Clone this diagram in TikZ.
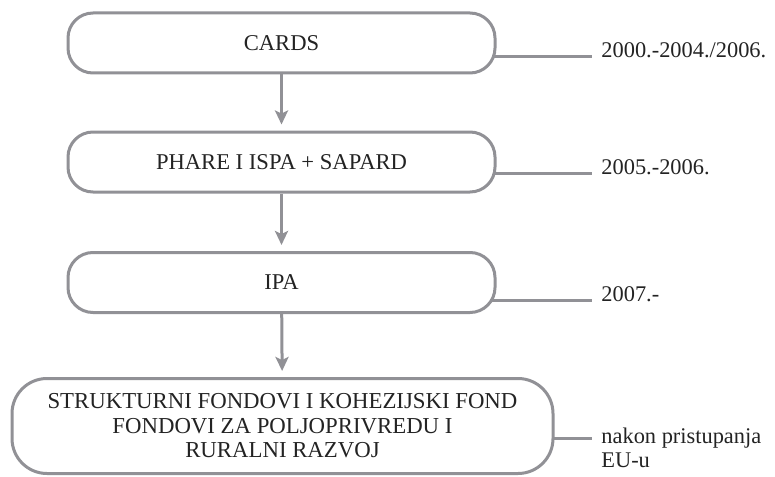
\documentclass[tikz,border=0pt]{standalone}
\usepackage{fontspec}
\setmainfont{Liberation Serif}
\usetikzlibrary{arrows.meta,backgrounds}
\definecolor{framegray}{RGB}{145,145,150}
\definecolor{inkgray}{RGB}{35,35,35}

\begin{document}
\begin{tikzpicture}[x=0.5pt,y=-0.5pt,
    phase/.style={draw=framegray,line width=1.5pt,fill=white,rounded corners=12.5pt,
      minimum width=213.5pt,minimum height=30pt,text=inkgray,font=\fontsize{11.3}{13.5}\selectfont},
    bigphase/.style={phase,rounded corners=17.5pt,minimum width=270.5pt,minimum height=47.5pt,
      align=center,font=\fontsize{11.4}{12.2}\selectfont},
    flow/.style={draw=framegray,line width=1.5pt,-{Stealth[length=7pt,width=6.5pt,inset=1.5pt]},shorten >=3pt},
    tie/.style={draw=framegray,line width=1.5pt},
    period/.style={anchor=base west,inner sep=0pt,text=inkgray,font=\fontsize{11.2}{12}\selectfont}]
  \useasboundingbox (0,0) rectangle (775,476);

  \node[phase] (cards) at (281.5,43) {CARDS};
  \node[phase] (phare) at (281.5,162) {PHARE I ISPA + SAPARD};
  \node[phase] (ipa) at (281.5,282.5) {IPA};
  \node[bigphase] (funds) at (282.5,426) {STRUKTURNI FONDOVI I KOHEZIJSKI FOND\\FONDOVI ZA POLJOPRIVREDU I\\RURALNI RAZVOJ};

  \draw[flow] (cards) -- (phare);
  \draw[flow] (phare) -- (ipa);
  \draw[flow] (ipa) -- (funds);

  \coordinate (e1) at (592,57);
  \coordinate (e2) at (592,173);
  \coordinate (e3) at (592,300);
  \coordinate (e4) at (592,438);

  \node[period] (d1) at (601,58) {2000.-2004./2006.};
  \node[period] (d2) at (601,174) {2005.-2006.};
  \node[period] (d3) at (601,301) {2007.-};
  \node[period,align=left] (d4) at (601,467) {nakon pristupanja\\EU-u};

  \begin{scope}[on background layer]
    \draw[tie] (cards.center |- e1) -- (e1);
    \draw[tie] (phare.center |- e2) -- (e2);
    \draw[tie] (ipa.center |- e3) -- (e3);
    \draw[tie] (funds.center |- e4) -- (e4);
  \end{scope}
\end{tikzpicture}
\end{document}
